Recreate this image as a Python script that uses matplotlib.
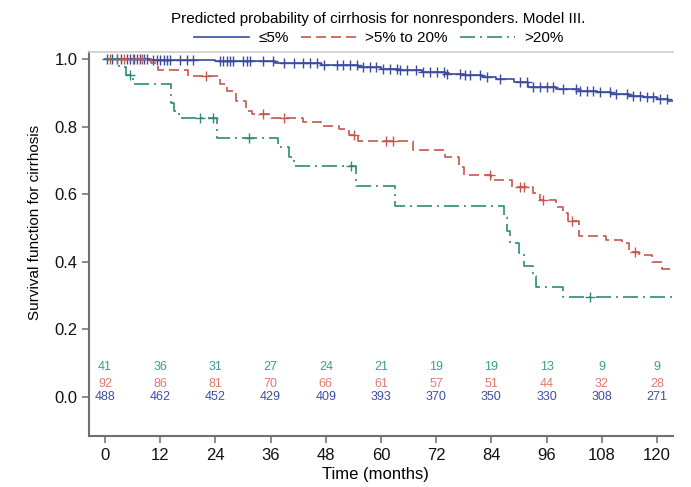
import numpy as np
import matplotlib
matplotlib.use("Agg")
import matplotlib.pyplot as plt

plt.rcParams['font.family'] = ['Liberation Sans', 'DejaVu Sans']

# Kaplan-Meier steps (time in months, survival)
blue_t = [0, 10, 24, 37, 47, 55, 60, 64, 69, 74, 78, 82, 85, 89, 92, 98, 103, 107, 110, 114, 117, 120, 122.5, 124]
blue_s = [1.0, 0.997, 0.993, 0.988, 0.983, 0.977, 0.971, 0.966, 0.961, 0.956, 0.951, 0.946, 0.940, 0.932,
          0.918, 0.912, 0.906, 0.901, 0.896, 0.891, 0.886, 0.880, 0.874, 0.874]

red_t = [0, 10, 11.5, 18, 25, 26.5, 28.5, 30.7, 32, 36, 43, 47, 50.8, 53, 55, 67, 74, 77, 78, 84, 88.5,
         93, 94.6, 98, 99.5, 100.7, 103, 109, 112.5, 114, 116, 119, 121, 124]
red_s = [1.0, 0.989, 0.967, 0.95, 0.925, 0.905, 0.876, 0.847, 0.837, 0.826, 0.813, 0.803, 0.794, 0.774,
         0.756, 0.732, 0.71, 0.68, 0.657, 0.641, 0.621, 0.602, 0.582, 0.562, 0.545, 0.52, 0.475, 0.465,
         0.455, 0.43, 0.42, 0.40, 0.38, 0.38]

green_t = [0, 3, 4.5, 6, 14.3, 15, 16, 24.3, 37.6, 40, 41, 54.5, 63, 86.7, 87.3, 88, 90, 91, 93, 93.8, 99.5, 124]
green_s = [1.0, 0.976, 0.951, 0.925, 0.87, 0.847, 0.824, 0.767, 0.74, 0.71, 0.683, 0.623, 0.566, 0.533,
           0.49, 0.455, 0.426, 0.387, 0.357, 0.327, 0.296, 0.296]

# censoring times
blue_cens = [0.5, 1.5, 2.5, 3.5, 4.7, 5.5, 6.2, 7, 7.6, 8.5, 9.1, 10.5, 11.3, 12, 12.8, 13.4, 14.1, 16.3,
             17.7, 19.2, 25, 25.7, 26.4, 27.2, 27.9, 30, 30.8, 31.5, 34.4, 36.6, 38.8, 41, 43, 44.6, 46,
             47.5, 50.4, 51.8, 53.3, 54.7, 56, 57.6, 59, 60.5, 62, 63.4, 64.1, 65.6, 67.7, 69.2, 70.7,
             72.1, 73.6, 74.3, 77.2, 78.3, 79.3, 81.5, 83, 85.9, 90.2, 91.7, 93.1, 94.6, 96, 97.5, 99.6,
             102.5, 103.3, 104.7, 106.2, 107.6, 109.8, 111.2, 113.4, 114.9, 116.3, 117.8, 119.2, 120.7, 122.1]
red_cens = [1, 2.5, 4, 6, 8, 22, 34.4, 38.8, 54.2, 61, 62.7, 83.7, 90.2, 91, 95.3, 101.5, 115.2]
green_cens = [5.4, 20.6, 23.5, 31.2, 53.5, 105.4]

# numbers at risk
risk_times = [0, 12, 24, 36, 48, 60, 72, 84, 96, 108, 120]
risk_blue = [488, 462, 452, 429, 409, 393, 370, 350, 330, 308, 271]
risk_red = [92, 86, 81, 70, 66, 61, 57, 51, 44, 32, 28]
risk_green = [41, 36, 31, 27, 24, 21, 19, 19, 13, 9, 9]

labels = ['\u22645%', '>5% to 20%', '>20%']
line_colors = ['#3b4c9e', '#c4584b', '#2f8a78']
text_colors = ['#3d4fa5', '#e07b70', '#3a9f8a']


def step_value(times, surv, t):
    idx = np.searchsorted(times, t, side='right') - 1
    return np.asarray(surv)[idx]


fig = plt.figure(figsize=(6.91, 4.87), dpi=100)
ax = fig.add_axes([0.1295, 0.1047, 0.8445, 0.7883])

curves = [(blue_t, blue_s, blue_cens), (red_t, red_s, red_cens), (green_t, green_s, green_cens)]
styles = [dict(linestyle='-'), dict(dashes=(6, 3)), dict(dashes=(9, 3, 1.2, 3))]

handles = []
for (t, s, c), col, sty, lab in zip(curves, line_colors, styles, labels):
    h, = ax.step(t, s, where='post', color=col, lw=1.2, label=lab, **sty)
    handles.append(h)
    ax.plot(c, step_value(t, s, c), linestyle='none', marker='+', markersize=7,
            markeredgewidth=1.0, color=col)

# numbers at risk
for vals, ypos, col in [(risk_green, 0.088, text_colors[2]),
                        (risk_red, 0.040, text_colors[1]),
                        (risk_blue, 0.0, text_colors[0])]:
    for x, v in zip(risk_times, vals):
        ax.text(x, ypos, str(v), color=col, fontsize=9, ha='center', va='center')

ax.set_xlim(-3.4, 123.5)
ax.set_ylim(-0.115, 1.02)
ax.set_xticks(risk_times)
ax.set_yticks([0.0, 0.2, 0.4, 0.6, 0.8, 1.0])
ax.set_yticklabels(['0.0', '0.2', '0.4', '0.6', '0.8', '1.0'])
ax.tick_params(axis='both', direction='out', length=5, width=1.2, color='#777777',
               labelsize=12, labelcolor='#111111')

ax.spines['right'].set_visible(False)
ax.spines['left'].set_color('#6e6e6e')
ax.spines['bottom'].set_color('#6e6e6e')
ax.spines['left'].set_linewidth(1.5)
ax.spines['bottom'].set_linewidth(1.5)
ax.spines['top'].set_color('#cccccc')
ax.spines['top'].set_linewidth(1.2)

ax.set_xlabel('Time (months)', fontsize=12, labelpad=2)
ax.xaxis.set_label_coords(0.49, -0.08)
ax.set_ylabel('Survival function for cirrhosis', fontsize=11, labelpad=6)
ax.yaxis.set_label_coords(-0.082, 0.557)

leg = fig.legend(handles=handles, labels=labels, loc='upper center', bbox_to_anchor=(0.548, 0.995),
                 ncol=3, frameon=False, fontsize=11, handlelength=3.6, columnspacing=0.8,
                 handletextpad=0.6, borderaxespad=0.2,
                 title='Predicted probability of cirrhosis for nonresponders. Model III.',
                 title_fontsize=11)
leg._legend_box.sep = 4

fig.savefig('out.png', dpi=100)
